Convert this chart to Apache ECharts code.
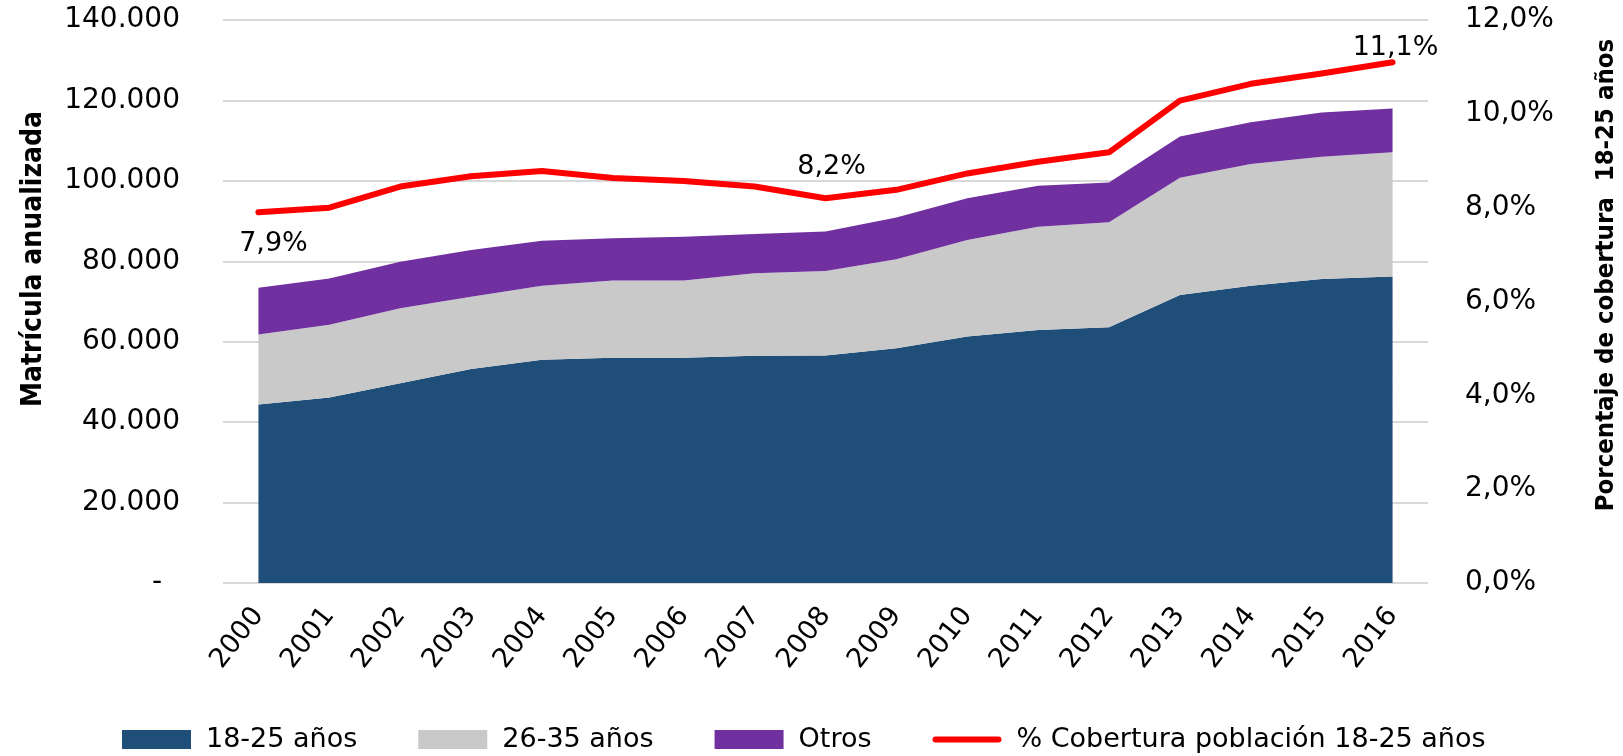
<!DOCTYPE html>
<html>
<head>
<meta charset="utf-8">
<script src="https://cdn.jsdelivr.net/npm/echarts@6.0.0/dist/echarts.min.js"></script>
<style>
  html, body { margin: 0; padding: 0; background: #fff; }
  #chart { width: 1623px; height: 756px; }
</style>
</head>
<body>
<div id="chart"></div>
<script>
const anios = ['2000', '2001', '2002', '2003', '2004', '2005', '2006', '2007', '2008',
  '2009', '2010', '2011', '2012', '2013', '2014', '2015', '2016']
const edad1825 = [44400, 46100, 49700, 53200, 55500, 56000, 56000, 56500, 56600,
  58400, 61300, 62900, 63600, 71600, 73900, 75600, 76200]
const edad2635 = [17400, 18100, 18600, 18000, 18400, 19200, 19200, 20500, 21000,
  22100, 24000, 25700, 26100, 29200, 30300, 30400, 30900]
const otros = [11600, 11500, 11600, 11600, 11200, 10500, 10900, 9800, 9800,
  10400, 10400, 10200, 9900, 10200, 10400, 11000, 10900]
const cobertura = [7.9, 8.0, 8.45, 8.67, 8.78, 8.63, 8.57, 8.45, 8.2,
  8.38, 8.73, 8.98, 9.18, 10.28, 10.64, 10.86, 11.1]
const conEtiqueta = [0, 8, 16] // puntos con etiqueta de dato

const fuente = '"DejaVu Sans", Verdana, sans-serif'
const fuenteTitulo = '"DejaVu Sans Condensed", "DejaVu Sans", sans-serif'

const miles = (v) => String(v).replace(/\B(?=(\d{3})+(?!\d))/g, '.')
const pct = (v) => v.toFixed(1).replace('.', ',') + '%'

// posicion de cada etiqueta del % cobertura
const posEtiqueta = {
  0: { position: 'bottom', distance: 18, offset: [15, 0] },
  8: { position: 'top', distance: 18, offset: [6, 0] },
  16: { position: 'top', distance: 1, offset: [3, 0] }
}

const areaSerie = (name, data, color) => ({
  name: name,
  type: 'line',
  stack: 'matricula',
  symbol: 'none',
  lineStyle: { width: 0 },
  areaStyle: { color: color, opacity: 1 },
  itemStyle: { color: color },
  data: data
})

const chart = echarts.init(document.getElementById('chart'))
chart.setOption({
  animation: false,
  backgroundColor: '#fff',
  grid: { left: 223, right: 195, top: 20, bottom: 173 },
  legend: {
    left: 117,
    top: 721,
    itemWidth: 69,
    itemHeight: 19,
    itemGap: 61,
    symbolKeepAspect: true,
    textStyle: { fontFamily: fuente, fontSize: 27, color: '#000', padding: [0, 0, 0, 10] },
    data: [
      { name: '18-25 años', icon: 'rect' },
      { name: '26-35 años', icon: 'rect' },
      { name: 'Otros', icon: 'rect' },
      {
        name: '% Cobertura población 18-25 años',
        icon: 'path://M3,0 L66,0 A3,3 0 0 1 66,6 L3,6 A3,3 0 0 1 3,0 Z'
      }
    ]
  },
  xAxis: {
    type: 'category',
    boundaryGap: true,
    data: anios,
    axisLine: { show: false },
    axisTick: { show: false },
    axisLabel: {
      rotate: 52,
      margin: 28,
      interval: 0,
      fontFamily: fuente,
      fontSize: 27,
      color: '#000'
    }
  },
  yAxis: [{
    type: 'value',
    min: 0,
    max: 140000,
    interval: 20000,
    axisLine: { show: false },
    axisTick: { show: false },
    splitLine: { lineStyle: { color: '#d9d9d9', width: 2 } },
    axisLabel: {
      margin: 43,
      fontFamily: fuente,
      fontSize: 28,
      color: '#000',
      formatter: (v) => v === 0 ? '-  ' : miles(v)
    }
  }, {
    type: 'value',
    min: 0,
    max: 12,
    interval: 2,
    axisLine: { show: false },
    axisTick: { show: false },
    splitLine: { show: false },
    axisLabel: {
      margin: 37,
      fontFamily: fuente,
      fontSize: 28,
      color: '#000',
      formatter: (v) => pct(v)
    }
  }],
  series: [
    areaSerie('18-25 años', edad1825, '#1f4e79'),
    areaSerie('26-35 años', edad2635, '#c9c9c9'),
    areaSerie('Otros', otros, '#7030a0'),
    {
      name: '% Cobertura población 18-25 años',
      type: 'line',
      yAxisIndex: 1,
      symbol: 'circle',
      symbolSize: 0,
      showSymbol: true,
      lineStyle: { color: '#ff0000', width: 6, cap: 'round', join: 'round' },
      itemStyle: { color: '#ff0000' },
      data: cobertura.map((v, i) => {
        if (conEtiqueta.indexOf(i) < 0) return v
        return {
          value: v,
          label: Object.assign({
            show: true,
            fontFamily: fuente,
            fontSize: 27,
            color: '#000',
            formatter: (p) => pct(p.value)
          }, posEtiqueta[i])
        }
      })
    }
  ],
  graphic: [{
    type: 'text',
    x: 34,
    y: 259,
    rotation: Math.PI / 2,
    style: {
      text: 'Matrícula anualizada',
      font: 'bold 28px ' + fuenteTitulo,
      fill: '#000',
      align: 'center',
      verticalAlign: 'middle'
    }
  }, {
    type: 'text',
    x: 1606,
    y: 275,
    rotation: Math.PI / 2,
    style: {
      text: 'Porcentaje de cobertura  18-25 años',
      font: 'bold 25.5px ' + fuenteTitulo,
      fill: '#000',
      align: 'center',
      verticalAlign: 'middle'
    }
  }]
})
</script>
</body>
</html>
